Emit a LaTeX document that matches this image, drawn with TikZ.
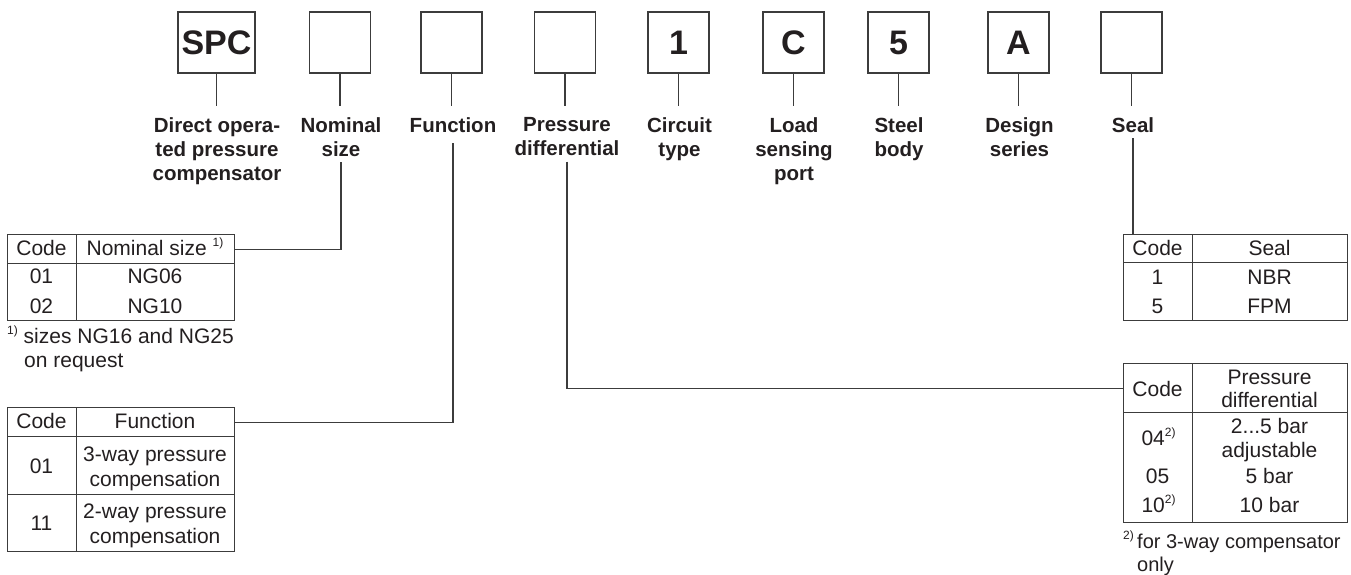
\documentclass[tikz,border=0pt]{standalone}
\usepackage{fontspec}
\setmainfont{Liberation Sans}
\definecolor{ink}{HTML}{231F20}
\definecolor{ln}{HTML}{3C3C3C}
\newcommand\fnm[1]{\raisebox{0.42em}{\fontsize{12}{12}\selectfont #1}}
\begin{document}
\begin{tikzpicture}[x=1pt,y=-1pt,
  codebox/.style={draw=ln, line width=1.2pt, minimum width=61pt, minimum height=61pt, inner sep=0pt,
    font=\fontsize{34}{34}\selectfont\bfseries, text=ink},
  lbl/.style={font=\fontsize{20.5}{24}\selectfont\bfseries, align=center, anchor=north, inner sep=0pt, text=ink},
  cell/.style={draw=ln, line width=1.2pt, inner sep=0pt, anchor=north west},
  txt/.style={font=\fontsize{21}{25}\selectfont, anchor=base, inner sep=0pt, text=ink},
  conn/.style={draw=ln, line width=1.2pt}]
\useasboundingbox (0,0) rectangle (1351,574);

% code boxes
\node[codebox, minimum width=77pt] (bspc) at (216.5,42.5) {SPC};
\node[codebox] (bnom) at (340,42.5) {};
\node[codebox] (bfun) at (451.5,42.5) {};
\node[codebox] (bpd) at (565,42.5) {};
\node[codebox] (bct) at (678.5,42.5) {1};
\node[codebox] (blsp) at (793.5,42.5) {C};
\node[codebox] (bsb) at (898.5,42.5) {5};
\node[codebox] (bds) at (1018.5,42.5) {A};
\node[codebox] (bseal) at (1131.5,42.5) {};

% labels
\node[lbl] (lspc) at (217,117) {Direct opera-\\ted pressure\\compensator};
\node[lbl] (lnom) at (341,117) {Nominal\\size};
\node[lbl] (lfun) at (453,117) {Function};
\node[lbl] (lpd) at (567,117) {Pressure\\differential};
\node[lbl] (lct) at (679.5,117) {Circuit\\type};
\node[lbl] (llsp) at (794,117) {Load\\sensing\\port};
\node[lbl] (lsb) at (899,117) {Steel\\body};
\node[lbl] (lds) at (1019.5,117) {Design\\series};
\node[lbl] (lseal) at (1133,117) {Seal};

% box-to-label connectors
\foreach \b/\l in {bspc/lspc,bnom/lnom,bfun/lfun,bpd/lpd,bct/lct,blsp/llsp,bsb/lsb,bds/lds,bseal/lseal}
  \draw[conn, shorten >=11pt] (\b.south) -- (\b.south |- \l.north);

% Nominal size table
\node[cell, minimum width=69pt, minimum height=29pt] (nh1) at (7,234) {};
\node[cell, minimum width=158pt, minimum height=29pt] (nh2) at (76,234) {};
\node[cell, minimum width=69pt, minimum height=57pt] (nb1) at (7,263) {};
\node[cell, minimum width=158pt, minimum height=57pt] (nb2) at (76,263) {};
\node[txt] (nt1) at (41.5,255) {Code};
\node[txt] (nt2) at (155,255) {Nominal size \fnm{1)}};
\node[txt] (nt3) at (41.5,283) {01};
\node[txt] (nt4) at (41.5,313) {02};
\node[txt] (nt5) at (155,283) {NG06};
\node[txt] (nt6) at (155,313) {NG10};
\node[txt, anchor=base west] (nf1) at (7,343) {\fnm{1)} sizes NG16 and NG25};
\node[txt, anchor=base west] (nf2) at (24,367) {on request};

% Function table
\node[cell, minimum width=69pt, minimum height=29pt] (fh1) at (7,407) {};
\node[cell, minimum width=158pt, minimum height=29pt] (fh2) at (76,407) {};
\node[cell, minimum width=69pt, minimum height=58pt] (fb1) at (7,436) {};
\node[cell, minimum width=158pt, minimum height=58pt] (fb2) at (76,436) {};
\node[cell, minimum width=69pt, minimum height=57pt] (fc1) at (7,494) {};
\node[cell, minimum width=158pt, minimum height=57pt] (fc2) at (76,494) {};
\node[txt] (ft1) at (41.5,428) {Code};
\node[txt] (ft2) at (155,428) {Function};
\node[txt] (ft3) at (41.5,473) {01};
\node[txt] (ft4) at (155,461) {3-way pressure};
\node[txt] (ft5) at (155,486) {compensation};
\node[txt] (ft6) at (41.5,530) {11};
\node[txt] (ft7) at (155,518) {2-way pressure};
\node[txt] (ft8) at (155,543) {compensation};

% Seal table
\node[cell, minimum width=69pt, minimum height=28pt] (sh1) at (1123,234) {};
\node[cell, minimum width=155pt, minimum height=28pt] (sh2) at (1192,234) {};
\node[cell, minimum width=69pt, minimum height=58pt] (sb1) at (1123,262) {};
\node[cell, minimum width=155pt, minimum height=58pt] (sb2) at (1192,262) {};
\node[txt] (st1) at (1157.5,255) {Code};
\node[txt] (st2) at (1269.5,255) {Seal};
\node[txt] (st3) at (1157.5,284) {1};
\node[txt] (st4) at (1157.5,313) {5};
\node[txt] (st5) at (1269.5,284) {NBR};
\node[txt] (st6) at (1269.5,313) {FPM};

% Pressure differential table
\node[cell, minimum width=69pt, minimum height=49pt] (ph1) at (1123,363) {};
\node[cell, minimum width=155pt, minimum height=49pt] (ph2) at (1192,363) {};
\node[cell, minimum width=69pt, minimum height=110pt] (pb1) at (1123,412) {};
\node[cell, minimum width=155pt, minimum height=110pt] (pb2) at (1192,412) {};
\node[txt] (pt1) at (1157.5,396) {Code};
\node[txt] (pt2) at (1269.5,384) {Pressure};
\node[txt] (pt3) at (1269.5,407) {differential};
\node[txt] (pt4) at (1158.5,445) {04\fnm{2)}};
\node[txt] (pt5) at (1269.5,433) {2...5 bar};
\node[txt] (pt6) at (1269.5,457) {adjustable};
\node[txt] (pt7) at (1157.5,483) {05};
\node[txt] (pt8) at (1269.5,483) {5 bar};
\node[txt] (pt9) at (1158.5,512) {10\fnm{2)}};
\node[txt] (pt10) at (1269.5,512) {10 bar};
\node[txt, anchor=base west, font=\fontsize{20}{24}\selectfont] (pf1) at (1123,548) {\fnm{2)}\,for 3-way compensator};
\node[txt, anchor=base west, font=\fontsize{20}{24}\selectfont] (pf2) at (1137,571) {only};

% label-to-table connectors
\draw[conn, shorten <=6pt] (lnom.south) |- (nh2.east);
\draw[conn, shorten <=11pt] (lfun.south) |- (fh2.east);
\draw[conn, shorten <=6pt] (lpd.south) |- (ph1.west);
\draw[conn, shorten <=6pt] (lseal.south) -- (lseal.south |- sh1.north);
\end{tikzpicture}
\end{document}
